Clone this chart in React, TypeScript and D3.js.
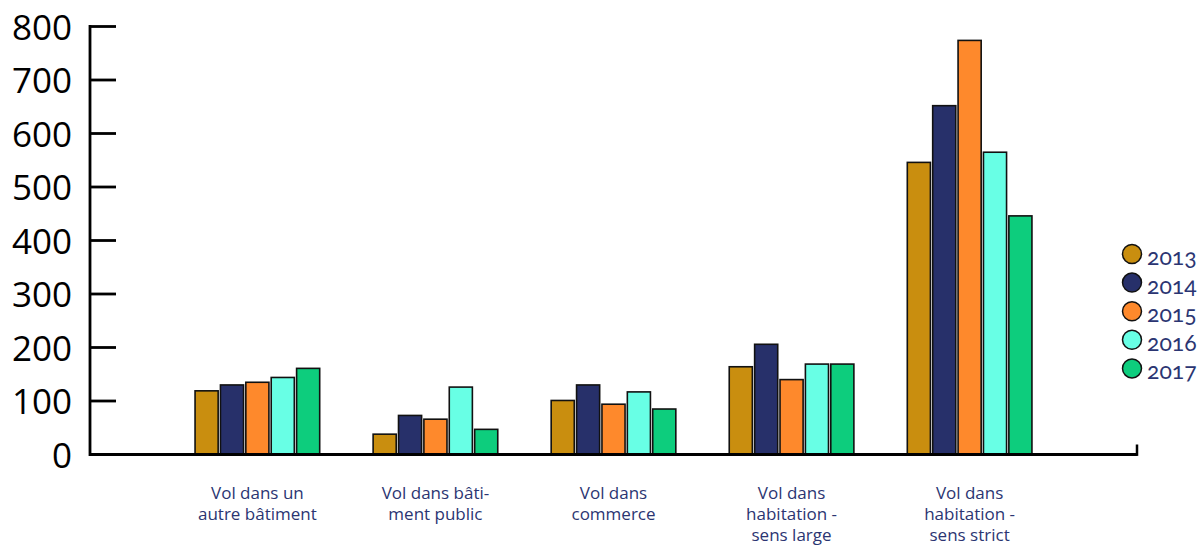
import React, { useEffect, useRef } from 'react';
import * as d3 from 'd3';

const categories = [
	'Vol dans un autre bâtiment',
	'Vol dans bâtiment public',
	'Vol dans commerce',
	'Vol dans habitation - sens large',
	'Vol dans habitation - sens strict'
];

// how the category labels are broken on the axis
const categoryLines = [
	['Vol dans un', 'autre bâtiment'],
	['Vol dans bâti-', 'ment public'],
	['Vol dans', 'commerce'],
	['Vol dans', 'habitation -', 'sens large'],
	['Vol dans', 'habitation -', 'sens strict']
];

const years = ['2013', '2014', '2015', '2016', '2017'];

const v2013 = [119, 38, 101, 164, 546];
const v2014 = [130, 73, 130, 206, 652];
const v2015 = [135, 66, 94, 140, 774];
const v2016 = [144, 126, 117, 169, 565];
const v2017 = [161, 47, 85, 169, 446];

const yTicks = [0, 100, 200, 300, 400, 500, 600, 700, 800];

const colors = ['#c98e0f', '#27306a', '#fe892c', '#68ffe5', '#0dcd7d'];

const App = () => {
	const ref = useRef(null);

	useEffect(() => {
		const series = [v2013, v2014, v2015, v2016, v2017];
		const left = 90;
		const right = 1137;
		const bottom = 454.5;
		const top = 26.5;

		const svg = d3.select(ref.current);
		svg.selectAll('*').remove();

		const xScale = d3
			.scaleBand()
			.domain(categories)
			.range([left, right])
			.paddingInner(0.3)
			.paddingOuter(0.59);

		const xInner = d3
			.scaleBand()
			.domain(years)
			.range([0, xScale.bandwidth()])
			.paddingInner(0.09);

		const yScale = d3.scaleLinear().domain([0, 800]).range([bottom, top]);

		// bars
		const groups = svg
			.selectAll('g.group')
			.data(categories)
			.enter()
			.append('g')
			.attr('class', 'group')
			.attr('transform', c => `translate(${xScale(c)}, 0)`);

		groups
			.selectAll('rect')
			.data((c, i) => years.map((y, j) => ({ year: y, value: series[j][i], color: colors[j] })))
			.enter()
			.append('rect')
			.attr('x', d => xInner(d.year))
			.attr('y', d => yScale(d.value))
			.attr('width', xInner.bandwidth())
			.attr('height', d => bottom - yScale(d.value))
			.style('fill', d => d.color)
			.style('stroke', '#111')
			.style('stroke-width', 1.6);

		// y axis
		svg.append('line')
			.attr('x1', left)
			.attr('x2', left)
			.attr('y1', yScale(800) - 1.5)
			.attr('y2', bottom + 1.5)
			.style('stroke', '#000')
			.style('stroke-width', 2.8);

		const ticks = svg.selectAll('g.ytick').data(yTicks).enter().append('g').attr('class', 'ytick');

		ticks
			.append('line')
			.attr('x1', left)
			.attr('x2', left + 26)
			.attr('y1', d => yScale(d))
			.attr('y2', d => yScale(d))
			.style('stroke', '#000')
			.style('stroke-width', 2.8);

		ticks
			.append('text')
			.attr('x', 72)
			.attr('y', d => yScale(d))
			.attr('dy', '0.38em')
			.attr('text-anchor', 'end')
			.style('font-family', '"Open Sans", sans-serif')
			.style('font-size', '35px')
			.style('fill', '#000')
			.text(d => d);

		// x baseline
		svg.append('line')
			.attr('x1', left)
			.attr('x2', right)
			.attr('y1', bottom)
			.attr('y2', bottom)
			.style('stroke', '#000')
			.style('stroke-width', 2.8);

		svg.append('line')
			.attr('x1', right)
			.attr('x2', right)
			.attr('y1', bottom - 10)
			.attr('y2', bottom + 1.4)
			.style('stroke', '#000')
			.style('stroke-width', 2.5);

		// category labels
		const labels = svg
			.selectAll('text.cat')
			.data(categories)
			.enter()
			.append('text')
			.attr('class', 'cat')
			.attr('text-anchor', 'middle')
			.style('font-family', '"Open Sans", sans-serif')
			.style('font-size', '17px')
			.style('fill', '#2b3572');

		labels
			.selectAll('tspan')
			.data((c, i) => categoryLines[i].map(t => ({ t, c })))
			.enter()
			.append('tspan')
			.attr('x', d => xScale(d.c) + xScale.bandwidth() / 2)
			.attr('y', (d, k) => 499 + k * 21)
			.text(d => d.t);

		// legend
		const legend = svg
			.selectAll('g.legend')
			.data(years)
			.enter()
			.append('g')
			.attr('class', 'legend')
			.attr('transform', (d, i) => `translate(1132, ${254 + i * 28.6})`);

		legend
			.append('circle')
			.attr('r', 9.5)
			.style('fill', (d, i) => colors[i])
			.style('stroke', '#111')
			.style('stroke-width', 1.5);

		legend
			.append('text')
			.attr('x', 15)
			.attr('y', 11)
			.style('font-family', 'Lato, sans-serif')
			.style('font-size', '23px')
			.style('font-variant-numeric', 'oldstyle-nums')
			.style('fill', '#2b3572')
			.text(d => d);
	}, []);

	return (
		<svg
			ref={ref}
			width={1198}
			height={546}
			style={{ position: 'absolute', left: 0, top: 0, background: '#fff' }}
		/>
	);
};

export default App;
